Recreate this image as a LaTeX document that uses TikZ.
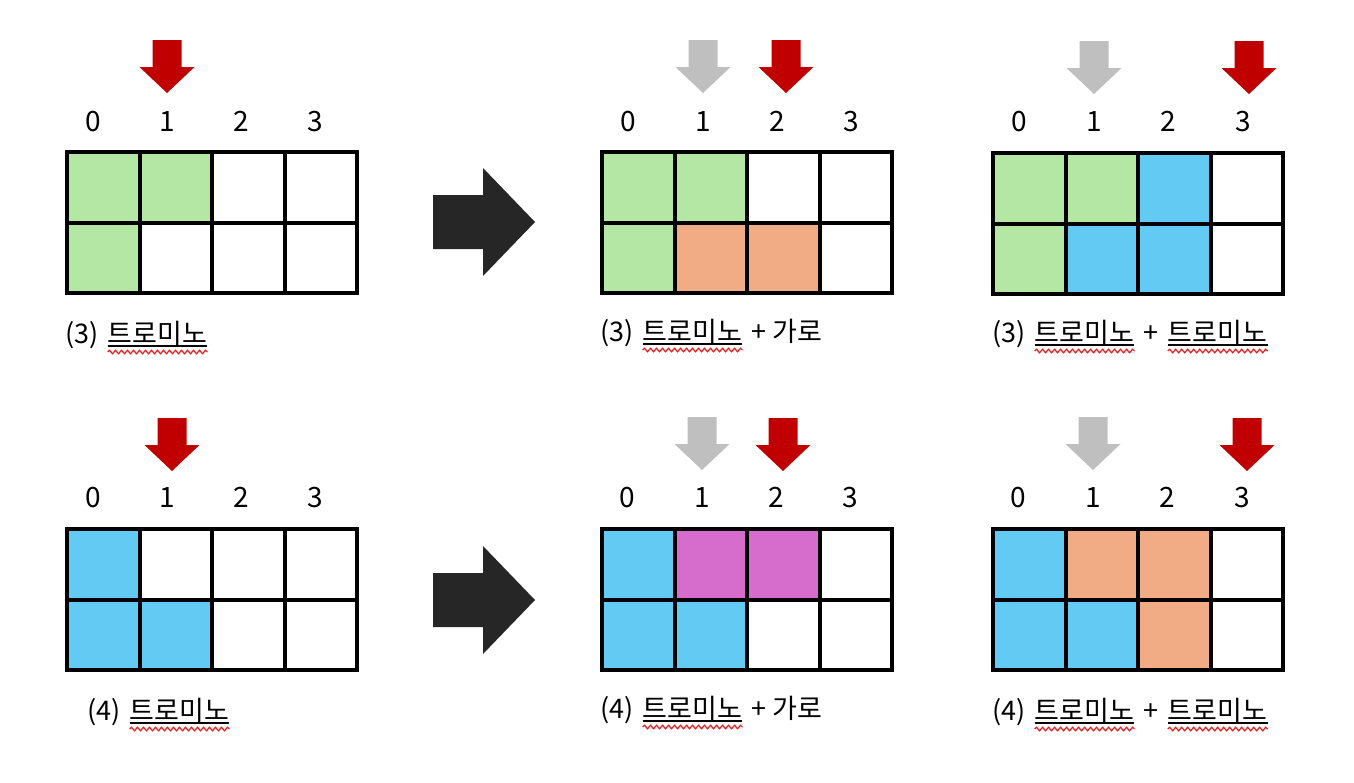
\documentclass[tikz,border=0pt]{standalone}
\usepackage{fontspec}
\setmainfont{Noto Sans CJK KR}
\usetikzlibrary{decorations.pathmorphing}
\definecolor{cgreen}{HTML}{B4E6A4}
\definecolor{corange}{HTML}{F1AB85}
\definecolor{cblue}{HTML}{63CAF3}
\definecolor{cmagenta}{HTML}{D66CCB}
\definecolor{cred}{HTML}{C00000}
\definecolor{cgray}{HTML}{BFBFBF}
\definecolor{cdark}{HTML}{262626}
\definecolor{wavyred}{HTML}{E41E1E}
\tikzset{
  gridline/.style={line width=4pt, black, line join=miter},
  digit/.style={anchor=base, inner sep=0pt, font=\fontsize{28}{30}\selectfont},
  lbl/.style={anchor=base west, inner sep=0pt, font=\fontsize{27}{30}\selectfont},
  uline/.style={line width=1.4pt, black},
  wavy/.style={line width=1.2pt, wavyred, decorate, decoration={snake, amplitude=1.8pt, segment length=6pt}},
  bigarrow/.style={fill=cdark},
}
\newcommand{\gcell}[5]{\fill[#5] ({#1+#3*72.5},{#2+#4*70.5}) rectangle ++(72.5,70.5);}
\newcommand{\ggrid}[2]{%
  \foreach \i in {1,2,3} \draw[gridline] ({#1+\i*72.5},#2) -- ++(0,141);
  \draw[gridline] (#1,{#2+70.5}) -- ++(290,0);
  \draw[gridline] (#1,#2) rectangle ++(290,141);}
\newcommand{\darrow}[3]{\fill[#3] ({#1-14.5},#2) -- ({#1+14.5},#2) -- ({#1+14.5},{#2+27}) -- ({#1+27.5},{#2+27}) -- (#1,{#2+53}) -- ({#1-27.5},{#2+27}) -- ({#1-14.5},{#2+27}) -- cycle;}
\newcommand{\rarrow}[2]{\fill[bigarrow] (#1,{#2-27}) -- ({#1+50},{#2-27}) -- ({#1+50},{#2-54}) -- ({#1+102},#2) -- ({#1+50},{#2+54}) -- ({#1+50},{#2+27}) -- (#1,{#2+27}) -- cycle;}
\newcommand{\digits}[6]{%
  \node[digit] at (#1,#5) {0};
  \node[digit] at (#2,#5) {1};
  \node[digit] at (#3,#5) {2};
  \node[digit] at (#4,#5) {3};}
\newcommand{\squig}[1]{%
  \draw[uline] ([yshift=-3pt]#1.base west) -- ([yshift=-3pt]#1.base east);
  \draw[wavy] ([yshift=-9pt]#1.base west) -- ([yshift=-9pt]#1.base east);}
\begin{document}
\begin{tikzpicture}[x=1pt,y=-1pt]
\useasboundingbox (0,0) rectangle (1354,782);
\fill[white] (0,0) rectangle (1354,782);

% ---------- top-left
\gcell{67}{152}{0}{0}{cgreen}\gcell{67}{152}{1}{0}{cgreen}\gcell{67}{152}{0}{1}{cgreen}
\ggrid{67}{152}
\darrow{167}{40}{cred}
\digits{93}{167}{241}{315}{131}{}
\node[lbl] (a1) at (65,343) {(3)};
\node[lbl] (a2) at ([xshift=9pt]a1.base east) {트로미노};
\squig{a2}

% ---------- top-middle
\gcell{602}{152}{0}{0}{cgreen}\gcell{602}{152}{1}{0}{cgreen}\gcell{602}{152}{0}{1}{cgreen}
\gcell{602}{152}{1}{1}{corange}\gcell{602}{152}{2}{1}{corange}
\ggrid{602}{152}
\darrow{703}{40}{cgray}
\darrow{786}{40}{cred}
\digits{628}{703}{777}{851}{131}{}
\node[lbl] (b1) at (600,341) {(3)};
\node[lbl] (b2) at ([xshift=9pt]b1.base east) {트로미노};
\node[lbl] (b3) at ([xshift=9pt]b2.base east) {+ 가로};
\squig{b2}

% ---------- top-right
\gcell{993}{153}{0}{0}{cgreen}\gcell{993}{153}{1}{0}{cgreen}\gcell{993}{153}{0}{1}{cgreen}
\gcell{993}{153}{2}{0}{cblue}\gcell{993}{153}{1}{1}{cblue}\gcell{993}{153}{2}{1}{cblue}
\ggrid{993}{153}
\darrow{1094}{41}{cgray}
\darrow{1249}{41}{cred}
\digits{1019}{1094}{1168}{1243}{131}{}
\node[lbl] (c1) at (992,342) {(3)};
\node[lbl] (c2) at ([xshift=9pt]c1.base east) {트로미노};
\node[lbl] (c3) at ([xshift=9pt]c2.base east) {+};
\node[lbl] (c4) at ([xshift=9pt]c3.base east) {트로미노};
\squig{c2}\squig{c4}

% ---------- bottom-left
\gcell{67}{529}{0}{0}{cblue}\gcell{67}{529}{0}{1}{cblue}\gcell{67}{529}{1}{1}{cblue}
\ggrid{67}{529}
\darrow{172}{418}{cred}
\digits{93}{167}{241}{315}{507}{}
\node[lbl] (d1) at (87,720) {(4)};
\node[lbl] (d2) at ([xshift=9pt]d1.base east) {트로미노};
\squig{d2}

% ---------- bottom-middle
\gcell{602}{529}{0}{0}{cblue}\gcell{602}{529}{0}{1}{cblue}\gcell{602}{529}{1}{1}{cblue}
\gcell{602}{529}{1}{0}{cmagenta}\gcell{602}{529}{2}{0}{cmagenta}
\ggrid{602}{529}
\darrow{702}{417}{cgray}
\darrow{783}{418}{cred}
\digits{627}{702}{776}{850}{507}{}
\node[lbl] (e1) at (600,718) {(4)};
\node[lbl] (e2) at ([xshift=9pt]e1.base east) {트로미노};
\node[lbl] (e3) at ([xshift=9pt]e2.base east) {+ 가로};
\squig{e2}

% ---------- bottom-right
\gcell{993}{529}{0}{0}{cblue}\gcell{993}{529}{0}{1}{cblue}\gcell{993}{529}{1}{1}{cblue}
\gcell{993}{529}{1}{0}{corange}\gcell{993}{529}{2}{0}{corange}\gcell{993}{529}{2}{1}{corange}
\ggrid{993}{529}
\darrow{1093}{417}{cgray}
\darrow{1247}{418}{cred}
\digits{1018}{1093}{1167}{1242}{507}{}
\node[lbl] (f1) at (992,720) {(4)};
\node[lbl] (f2) at ([xshift=9pt]f1.base east) {트로미노};
\node[lbl] (f3) at ([xshift=9pt]f2.base east) {+};
\node[lbl] (f4) at ([xshift=9pt]f3.base east) {트로미노};
\squig{f2}\squig{f4}

% ---------- big arrows
\rarrow{433}{222}
\rarrow{433}{600}
\end{tikzpicture}
\end{document}
